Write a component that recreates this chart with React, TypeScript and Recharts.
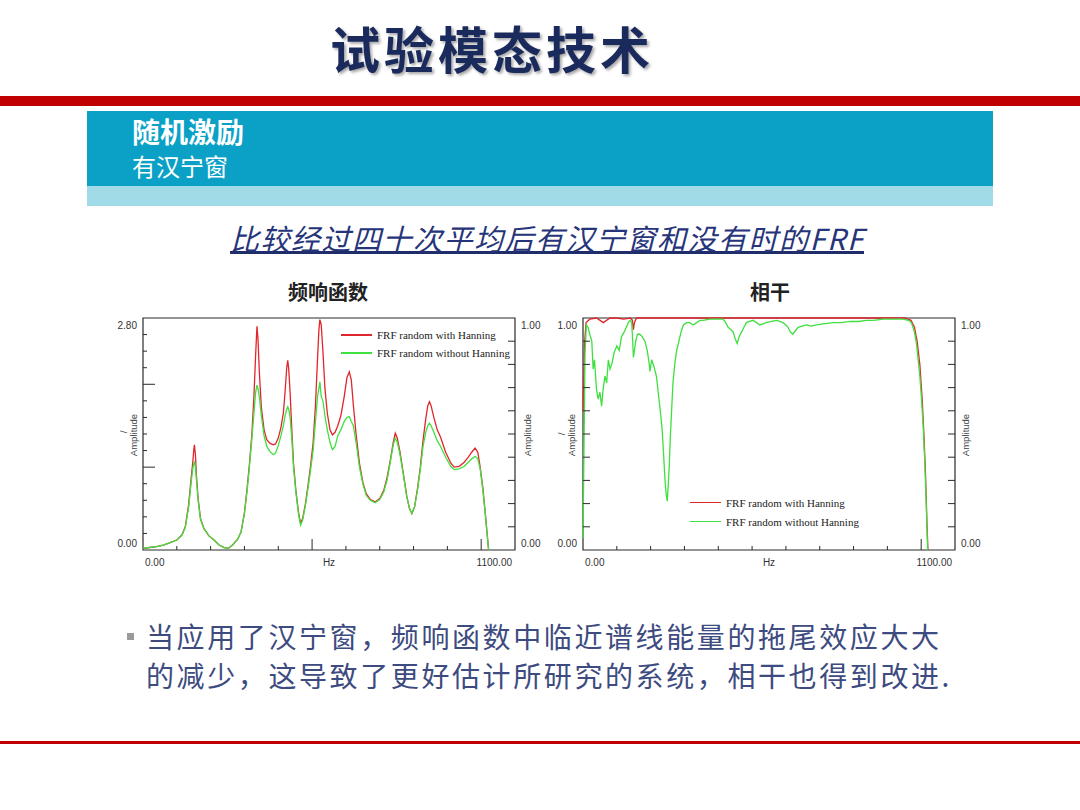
import React from "react";
import { LineChart, Line, XAxis, YAxis, ReferenceArea, Legend } from "recharts";

// ---- FRF (频响函数) ----
const frfHz = [
  0, 20, 40, 60, 80, 100, 115, 125, 135, 142, 147, 150, 152, 155, 158, 163, 170, 180, 195, 210,
  225, 240, 252, 265, 280, 290, 300, 308, 315, 322, 328, 333, 337, 340, 344, 350, 358, 366, 375, 385,
  392, 400, 408, 415, 420, 425, 428, 431, 435, 440, 445, 452, 460, 466, 472, 480, 488, 495, 503, 510,
  516, 520, 523, 527, 532, 538, 545, 553, 560, 568, 576, 585, 595, 603, 610, 616, 622, 630, 640, 650,
  660, 672, 686, 700, 712, 722, 732, 740, 746, 752, 760, 770, 780, 788, 795, 803, 812, 820, 828, 836,
  842, 847, 852, 860, 870, 880, 895, 910, 920, 935, 950, 962, 972, 982, 990, 997, 1005, 1012, 1018, 1022,
];
const frfHanning = [
  0.02, 0.03, 0.04, 0.06, 0.09, 0.12, 0.18, 0.28, 0.55, 0.85, 1.05, 1.2, 1.27, 1.15, 0.9, 0.62, 0.38, 0.26, 0.17, 0.12,
  0.06, 0.03, 0.02, 0.06, 0.13, 0.22, 0.45, 0.75, 1.05, 1.4, 1.85, 2.35, 2.7, 2.55, 2.15, 1.72, 1.45, 1.33, 1.29, 1.27,
  1.28, 1.35, 1.48, 1.65, 1.9, 2.2, 2.29, 2.18, 1.9, 1.45, 1.05, 0.72, 0.45, 0.32, 0.38, 0.55, 0.78, 1.0, 1.29, 1.75,
  2.3, 2.65, 2.78, 2.72, 2.4, 1.95, 1.65, 1.45, 1.39, 1.42, 1.5, 1.62, 1.85, 2.08, 2.15, 2.05, 1.75, 1.4, 1.05, 0.82,
  0.68, 0.61, 0.58, 0.62, 0.72, 0.88, 1.1, 1.3, 1.41, 1.35, 1.18, 0.92, 0.65, 0.5, 0.44, 0.52, 0.75, 1.0, 1.32, 1.58,
  1.74, 1.79, 1.74, 1.6, 1.45, 1.36, 1.18, 1.05, 1.0, 1.01, 1.06, 1.12, 1.18, 1.23, 1.18, 1.0, 0.75, 0.45, 0.18, 0.0,
];
const frfNoHanning = [
  0.02, 0.03, 0.04, 0.06, 0.09, 0.12, 0.18, 0.27, 0.52, 0.8, 0.98, 1.04, 1.07, 1.0, 0.85, 0.6, 0.37, 0.26, 0.17, 0.12,
  0.06, 0.03, 0.02, 0.06, 0.13, 0.22, 0.44, 0.72, 1.02, 1.35, 1.65, 1.9, 1.99, 1.95, 1.85, 1.62, 1.38, 1.25, 1.19, 1.15,
  1.17, 1.26, 1.38, 1.5, 1.62, 1.7, 1.73, 1.7, 1.6, 1.35, 1.0, 0.7, 0.43, 0.3, 0.36, 0.53, 0.75, 0.95, 1.2, 1.55,
  1.85, 1.95, 2.03, 1.85, 1.8, 1.62, 1.45, 1.3, 1.21, 1.25, 1.38, 1.45, 1.55, 1.6, 1.61, 1.55, 1.5, 1.3, 1.0, 0.8,
  0.66, 0.6, 0.57, 0.61, 0.7, 0.85, 1.08, 1.27, 1.35, 1.3, 1.15, 0.9, 0.64, 0.5, 0.44, 0.52, 0.73, 0.97, 1.25, 1.42,
  1.5, 1.53, 1.5, 1.42, 1.32, 1.25, 1.12, 1.01, 0.97, 0.98, 1.01, 1.06, 1.1, 1.13, 1.1, 0.98, 0.72, 0.44, 0.17, 0.0,
];

// ---- 相干 (coherence) ----
const cohHzHanning = [
  0, 2, 5, 9, 20, 40, 60, 80, 100, 120, 140, 146, 149, 152, 158, 200, 300, 400, 500, 600,
  700, 800, 900, 950, 970, 980, 988, 996, 1003, 1008, 1013, 1017, 1020,
];
const cohHanning = [
  0.6, 0.72, 0.9, 0.98, 0.995, 1.0, 0.98, 1.0, 1.0, 0.995, 1.0, 0.99, 0.95, 0.98, 1.0, 1.0, 1.0, 1.0, 1.0, 1.0,
  1.0, 1.0, 1.0, 1.0, 0.99, 0.96, 0.9, 0.8, 0.65, 0.5, 0.32, 0.12, 0.0,
];
const cohHzNoHanning = [
  0, 3, 6, 10, 15, 20, 26, 30, 34, 40, 45, 50, 55, 60, 65, 70, 75, 80, 85, 92,
  100, 107, 114, 122, 128, 134, 140, 144, 147, 149, 152, 156, 161, 168, 175, 183, 190, 196, 198, 203,
  210, 217, 224, 230, 234, 238, 243, 246, 249, 252, 255, 258, 262, 266, 272, 277, 282, 290, 297, 306,
  316, 326, 336, 346, 355, 375, 395, 414, 422, 429, 437, 444, 450, 456, 462, 469, 476, 483, 493, 503,
  513, 523, 532, 542, 557, 572, 582, 591, 600, 606, 613, 620, 628, 636, 648, 661, 675, 690, 710, 740,
  765, 789, 815, 838, 860, 887, 915, 946, 962, 971, 980, 986, 991, 996, 1001, 1006, 1010, 1014, 1017, 1019,
];
const cohNoHanning = [
  0.05, 0.45, 0.85, 0.97, 0.96, 0.93, 0.9, 0.78, 0.82, 0.69, 0.65, 0.68, 0.62, 0.7, 0.75, 0.72, 0.82, 0.78, 0.8, 0.85,
  0.88, 0.86, 0.92, 0.94, 0.96, 0.98, 0.99, 0.98, 0.9, 0.83, 0.86, 0.9, 0.93, 0.93, 0.92, 0.9, 0.86, 0.8, 0.77, 0.82,
  0.79, 0.75, 0.66, 0.58, 0.52, 0.42, 0.29, 0.24, 0.21, 0.28, 0.36, 0.48, 0.6, 0.72, 0.81, 0.86, 0.89, 0.94, 0.97, 0.98,
  0.98, 0.97, 0.98, 0.99, 0.99, 0.995, 0.995, 0.995, 0.98, 0.96, 0.95, 0.94, 0.91, 0.89, 0.92, 0.94, 0.96, 0.98, 0.985, 0.99,
  0.98, 0.97, 0.975, 0.98, 0.985, 0.99, 0.985, 0.98, 0.97, 0.96, 0.94, 0.93, 0.945, 0.96, 0.965, 0.97, 0.965, 0.97, 0.975, 0.98,
  0.98, 0.985, 0.985, 0.99, 0.99, 0.995, 0.995, 0.995, 0.99, 0.98, 0.94, 0.89, 0.82, 0.75, 0.65, 0.53, 0.4, 0.24, 0.1, 0.0,
];

// ---- axes ----
const hzTicks = [0, 100, 200, 300, 400, 500, 550, 600, 700, 800, 900, 1000, 1100];
const frfTicks = [0, 0.2, 0.4, 0.6, 0.8, 1.0, 1.2, 1.4, 1.6, 1.8, 2.0, 2.2, 2.4, 2.6, 2.8];
const unitTicks = [0, 0.1, 0.2, 0.3, 0.4, 0.5, 0.6, 0.7, 0.8, 0.9, 1.0];

const RED = "#e0262a";
const GREEN = "#3fe03f";
const AXIS = "#2a2a2a";
const TICK_FONT = '"Liberation Sans", Arial, sans-serif';

const frfRows = frfHz.map((hz, i) => ({ hz, hanning: frfHanning[i], noHanning: frfNoHanning[i] }));
const cohRowsHanning = cohHzHanning.map((hz, i) => ({ hz, v: cohHanning[i] }));
const cohRowsNoHanning = cohHzNoHanning.map((hz, i) => ({ hz, v: cohNoHanning[i] }));

// custom tick: tick marks point into the plot, labels only at the ends
const makeYTick =
  (side: "left" | "right", max: number, topText: string, longTicks: number[], shortLen: number, longLen: number) =>
  (props: any) => {
    const { x, y, payload } = props;
    const v = payload.value;
    const dir = side === "left" ? 1 : -1;
    if (v === 0 || v === max) {
      return (
        <text
          x={x - dir * 6}
          y={v === 0 ? y - 7 : y + 7}
          textAnchor={side === "left" ? "end" : "start"}
          dominantBaseline="central"
          fontSize={10}
          fill="#333"
          fontFamily={TICK_FONT}
        >
          {v === 0 ? "0.00" : topText}
        </text>
      );
    }
    const len = longTicks.includes(v) ? longLen : shortLen;
    return <line x1={x} y1={y} x2={x + dir * len} y2={y} stroke={AXIS} strokeWidth={1} />;
  };

const makeXTick = (longTicks: number[]) => (props: any) => {
  const { x, y, payload } = props;
  const v = payload.value;
  const txt = { fontSize: 10, fill: "#333", fontFamily: TICK_FONT, dominantBaseline: "central" as const };
  if (v === 550) return <text x={x} y={y + 12} textAnchor="middle" {...txt}>Hz</text>;
  if (v === 0) return <text x={x + 2} y={y + 12} textAnchor="start" {...txt}>0.00</text>;
  if (v === 1100) return <text x={x - 3} y={y + 12} textAnchor="end" {...txt}>1100.00</text>;
  const len = longTicks.includes(v) ? 11 : 4;
  return <line x1={x} y1={y} x2={x} y2={y - len} stroke={AXIS} strokeWidth={1} />;
};

const legendContent = (rowH: number) => (props: any) => (
  <div>
    {(props.payload || [])
      .filter((item: any) => item.type !== "none")
      .map((item: any) => (
        <div key={item.value} style={{ display: "flex", alignItems: "center", height: rowH }}>
          <span style={{ display: "inline-block", width: 31, height: 1.5, background: item.color, marginRight: 5 }} />
          <span style={{ fontFamily: '"Liberation Serif", "Times New Roman", serif', fontSize: 11, color: "#222", whiteSpace: "nowrap" }}>
            {item.value}
          </span>
        </div>
      ))}
  </div>
);

const chartMargin = { top: 18, right: 34, bottom: 29, left: 42 };

const FrfChart = () => (
  <LineChart width={450} height={280} data={frfRows} margin={chartMargin}>
    <XAxis dataKey="hz" type="number" domain={[0, 1100]} ticks={hzTicks} interval={0} height={1}
      axisLine={false} tickLine={false} tickSize={0} tickMargin={0} tick={makeXTick([500, 1000])} />
    <YAxis yAxisId="left" type="number" domain={[0, 2.8]} ticks={frfTicks} interval={0} width={1}
      axisLine={false} tickLine={false} tickSize={0} tickMargin={0} tick={makeYTick("left", 2.8, "2.80", [1.0, 2.0], 4, 12)} />
    <YAxis yAxisId="right" orientation="right" type="number" domain={[0, 1]} allowDataOverflow ticks={unitTicks} interval={0} width={1}
      axisLine={false} tickLine={false} tickSize={0} tickMargin={0} tick={makeYTick("right", 1, "1.00", [], 7, 7)} />
    <ReferenceArea yAxisId="left" x1={0} x2={1100} y1={0} y2={2.8} fill="none" stroke={AXIS} strokeWidth={1.2} ifOverflow="visible" />
    {/* the right amplitude axis is a bare scale: a hidden series keeps it registered */}
    <Line yAxisId="right" dataKey="hanning" hide legendType="none" dot={false} isAnimationActive={false} />
    <Line yAxisId="left" dataKey="hanning" name="FRF random with Hanning" stroke={RED} strokeWidth={1.3} dot={false} isAnimationActive={false} />
    <Line yAxisId="left" dataKey="noHanning" name="FRF random without Hanning" stroke={GREEN} strokeWidth={1.3} dot={false} isAnimationActive={false} />
    <Legend layout="vertical" align="center" verticalAlign="middle" content={legendContent(18)}
      wrapperStyle={{ left: 241, top: 26, width: "auto", height: "auto" }} />
  </LineChart>
);

const CohChart = () => (
  <LineChart width={450} height={280} margin={chartMargin}>
    <XAxis dataKey="hz" type="number" domain={[0, 1100]} ticks={hzTicks} interval={0} height={1}
      axisLine={false} tickLine={false} tickSize={0} tickMargin={0} tick={makeXTick([1000])} />
    <YAxis yAxisId="left" type="number" domain={[0, 1]} ticks={unitTicks} interval={0} width={1}
      axisLine={false} tickLine={false} tickSize={0} tickMargin={0} tick={makeYTick("left", 1, "1.00", [], 7, 7)} />
    <YAxis yAxisId="right" orientation="right" type="number" domain={[0, 1]} ticks={unitTicks} interval={0} width={1}
      axisLine={false} tickLine={false} tickSize={0} tickMargin={0} tick={makeYTick("right", 1, "1.00", [], 7, 7)} />
    <ReferenceArea yAxisId="left" x1={0} x2={1100} y1={0} y2={1} fill="none" stroke={AXIS} strokeWidth={1.2} ifOverflow="visible" />
    <Line yAxisId="left" data={cohRowsHanning} dataKey="v" name="FRF random with Hanning" stroke={RED} strokeWidth={1.3} dot={false} isAnimationActive={false} />
    <Line yAxisId="right" data={cohRowsNoHanning} dataKey="v" name="FRF random without Hanning" stroke={GREEN} strokeWidth={1.3} dot={false} isAnimationActive={false} />
    <Legend layout="vertical" align="center" verticalAlign="middle" content={legendContent(19)}
      wrapperStyle={{ left: 150, top: 193, width: "auto", height: "auto" }} />
  </LineChart>
);

const SideLabel = ({ x, y, text }: { x: number; y: number; text: string }) => (
  <div style={{
    position: "absolute", left: x, top: y, transform: "translate(-50%, -50%) rotate(-90deg)",
    fontFamily: TICK_FONT, fontSize: 9.5, color: "#444", whiteSpace: "nowrap",
  }}>{text}</div>
);

const CJK = '"Noto Sans CJK SC", sans-serif';

export default function App() {
  return (
    <div style={{ position: "absolute", left: 0, top: 0, width: 1080, height: 810, background: "#fff", overflow: "hidden", fontFamily: CJK }}>
      <div style={{
        position: "absolute", left: 330, top: 22, fontSize: 50, lineHeight: "50px", fontWeight: 700,
        letterSpacing: 4, color: "#1b2a5c", textShadow: "2px 2px 3px rgba(0,0,0,0.35)", whiteSpace: "nowrap",
      }}>试验模态技术</div>

      <div style={{ position: "absolute", left: 0, top: 96, width: 1080, height: 10, background: "#c00000" }} />
      <div style={{ position: "absolute", left: 87, top: 111, width: 906, height: 75, background: "#0ba1c6" }} />
      <div style={{ position: "absolute", left: 87, top: 186, width: 906, height: 20, background: "#a2dbe8" }} />
      <div style={{ position: "absolute", left: 132, top: 116, fontSize: 28, lineHeight: "30px", fontWeight: 700, color: "#fff" }}>随机激励</div>
      <div style={{ position: "absolute", left: 132, top: 153, fontSize: 24, lineHeight: "26px", color: "#fff" }}>有汉宁窗</div>

      <div style={{
        position: "absolute", left: 230, top: 224, fontSize: 29, lineHeight: "27px", fontStyle: "italic",
        letterSpacing: 1.5, color: "#26347a", borderBottom: "3px solid #1f2d6b", whiteSpace: "nowrap",
      }}>比较经过四十次平均后有汉宁窗和没有时的FRF</div>

      <div style={{ position: "absolute", left: 288, top: 281, fontSize: 20, lineHeight: "22px", fontWeight: 700, color: "#222" }}>频响函数</div>
      <div style={{ position: "absolute", left: 750, top: 281, fontSize: 20, lineHeight: "22px", fontWeight: 700, color: "#222" }}>相干</div>

      <div style={{ position: "absolute", left: 100, top: 300 }}><FrfChart /></div>
      <div style={{ position: "absolute", left: 540, top: 300 }}><CohChart /></div>

      <SideLabel x={123} y={432} text="/" />
      <SideLabel x={133} y={435} text="Amplitude" />
      <SideLabel x={527} y={435} text="Amplitude" />
      <SideLabel x={561} y={434} text="/" />
      <SideLabel x={571} y={435} text="Amplitude" />
      <SideLabel x={965} y={435} text="Amplitude" />

      <div style={{ position: "absolute", left: 127, top: 633, width: 7, height: 7, background: "#9a9a9a" }} />
      <div style={{ position: "absolute", left: 146, top: 617, fontSize: 28, lineHeight: "39px", letterSpacing: 2.6, color: "#3d4b80", whiteSpace: "nowrap" }}>
        当应用了汉宁窗，频响函数中临近谱线能量的拖尾效应大大
      </div>
      <div style={{ position: "absolute", left: 146, top: 656, fontSize: 28, lineHeight: "39px", letterSpacing: 2.6, color: "#3d4b80", whiteSpace: "nowrap" }}>
        的减少，这导致了更好估计所研究的系统，相干也得到改进.
      </div>

      <div style={{ position: "absolute", left: 0, top: 741, width: 1080, height: 3, background: "#c00000" }} />
    </div>
  );
}
